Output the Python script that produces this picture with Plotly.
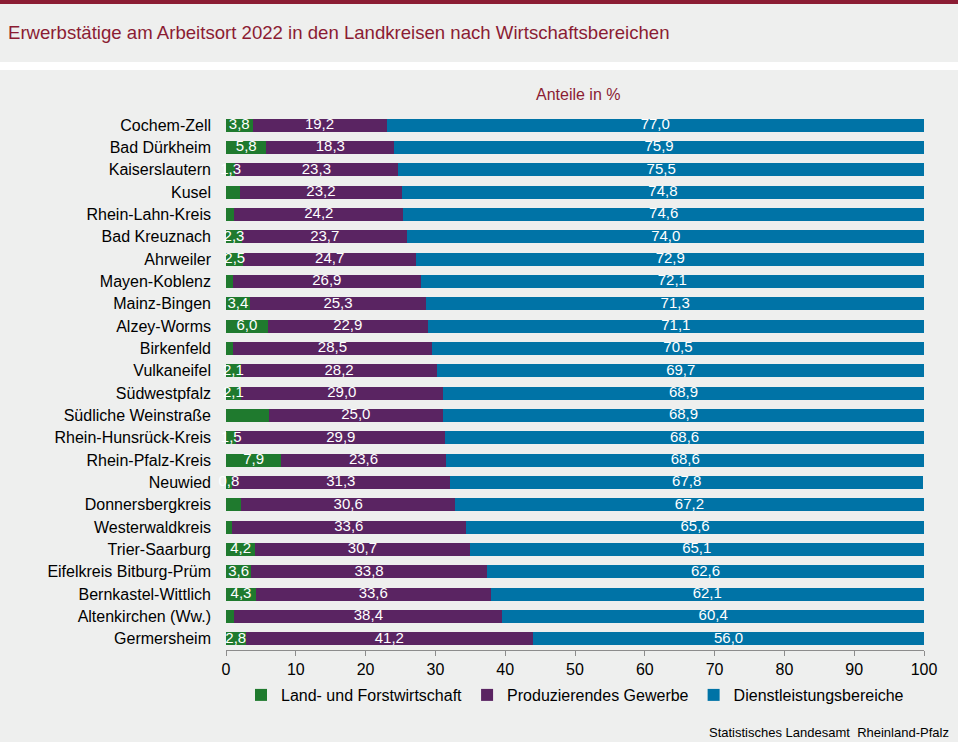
import plotly.graph_objects as go

# Landkreise (top to bottom) and shares in %
kreise = [
    "Cochem-Zell", "Bad Dürkheim", "Kaiserslautern", "Kusel", "Rhein-Lahn-Kreis",
    "Bad Kreuznach", "Ahrweiler", "Mayen-Koblenz", "Mainz-Bingen", "Alzey-Worms",
    "Birkenfeld", "Vulkaneifel", "Südwestpfalz", "Südliche Weinstraße",
    "Rhein-Hunsrück-Kreis", "Rhein-Pfalz-Kreis", "Neuwied", "Donnersbergkreis",
    "Westerwaldkreis", "Trier-Saarburg", "Eifelkreis Bitburg-Prüm",
    "Bernkastel-Wittlich", "Altenkirchen (Ww.)", "Germersheim",
]
land = [3.8, 5.8, 1.3, 2.0, 1.2, 2.3, 2.5, 1.0, 3.4, 6.0, 1.0, 2.1, 2.1, 6.1,
        1.5, 7.9, 0.8, 2.2, 0.8, 4.2, 3.6, 4.3, 1.2, 2.8]
prod = [19.2, 18.3, 23.3, 23.2, 24.2, 23.7, 24.7, 26.9, 25.3, 22.9, 28.5, 28.2,
        29.0, 25.0, 29.9, 23.6, 31.3, 30.6, 33.6, 30.7, 33.8, 33.6, 38.4, 41.2]
dienst = [77.0, 75.9, 75.5, 74.8, 74.6, 74.0, 72.9, 72.1, 71.3, 71.1, 70.5, 69.7,
          68.9, 68.9, 68.6, 68.6, 67.8, 67.2, 65.6, 65.1, 62.6, 62.1, 60.4, 56.0]
# green labels that are not printed in the original
land_shown = [True, True, True, False, False, True, True, False, True, True, False,
              True, True, False, True, True, True, False, False, True, True, True,
              False, True]

series_names = ["Land- und Forstwirtschaft", "Produzierendes Gewerbe", "Dienstleistungsbereiche"]
colors = ["#1f7a2e", "#5a2462", "#0073a6"]

bg = "#eeefee"
dark_red = "#8b1c33"
FONT = "Liberation Sans, Arial"
W, H = 958, 742
top_px, bot_px = 114, 650
left_px, right_px = 226, 924


def fmt(v):
    return f"{v:.1f}".replace(".", ",")


def py(pix):
    # pixel row -> paper y
    return (bot_px - pix) / (bot_px - top_px)


def px(pix):
    # pixel column -> paper x
    return (pix - left_px) / (right_px - left_px)


fig = go.Figure()

series = [land, prod, dienst]
texts = [
    [fmt(v) if s else "" for v, s in zip(land, land_shown)],
    [fmt(v) for v in prod],
    [fmt(v) for v in dienst],
]

base = [0.0] * len(kreise)
for name, vals, col, txt in zip(series_names, series, colors, texts):
    fig.add_trace(go.Bar(
        y=kreise, x=vals, name=name, orientation="h",
        marker=dict(color=col, line=dict(width=0)),
    ))
    mids = [b + v / 2 for b, v in zip(base, vals)]
    fig.add_trace(go.Scatter(
        y=kreise, x=mids, mode="text", text=txt, showlegend=False,
        textposition="middle center", hoverinfo="skip", cliponaxis=False,
        textfont=dict(color="white", size=15, family=FONT),
    ))
    base = [b + v for b, v in zip(base, vals)]

fig.update_layout(
    barmode="stack",
    bargap=0.41,
    width=W, height=H,
    margin=dict(l=left_px, r=W - right_px, t=top_px, b=H - bot_px),
    paper_bgcolor=bg,
    plot_bgcolor=bg,
    font=dict(family=FONT, size=16, color="black"),
    showlegend=True,
    legend=dict(orientation="h", x=0.5, xanchor="center", y=py(695), yanchor="middle",
                font=dict(size=16), traceorder="normal",
                bgcolor="rgba(0,0,0,0)"),
    xaxis=dict(
        range=[0, 100], dtick=10, showgrid=False, zeroline=False,
        showline=True, linecolor="#8c8c8c", linewidth=1,
        ticks="outside", ticklen=5, tickcolor="#8c8c8c",
        tickfont=dict(size=16, color="black"), fixedrange=True,
    ),
    yaxis=dict(
        range=[len(kreise) - 0.5, -0.5], showgrid=False, zeroline=False, showline=False,
        ticks="", ticklabelstandoff=14, tickfont=dict(size=16, color="black"),
        fixedrange=True,
    ),
    shapes=[
        dict(type="rect", xref="paper", yref="paper", x0=-1, x1=2, y0=py(4), y1=py(-2),
             fillcolor=dark_red, line=dict(width=0), layer="below"),
        dict(type="rect", xref="paper", yref="paper", x0=-1, x1=2, y0=py(70), y1=py(62),
             fillcolor="white", line=dict(width=0), layer="below"),
    ],
    annotations=[
        dict(text="Erwerbstätige am Arbeitsort 2022 in den Landkreisen nach Wirtschaftsbereichen",
             xref="paper", yref="paper", x=px(6), y=py(33),
             xanchor="left", yanchor="middle", showarrow=False,
             font=dict(size=18.6, color=dark_red)),
        dict(text="Anteile in %", xref="paper", yref="paper", x=px(578), y=py(94),
             xanchor="center", yanchor="middle", showarrow=False,
             font=dict(size=16, color=dark_red)),
        dict(text="Statistisches Landesamt  Rheinland-Pfalz", xref="paper", yref="paper",
             x=px(951), y=py(732), xanchor="right", yanchor="middle",
             showarrow=False, font=dict(size=13, color="black")),
    ],
)

fig.write_html("out.html", config=dict(displayModeBar=False),
               post_script="document.body.style.margin='0';")
